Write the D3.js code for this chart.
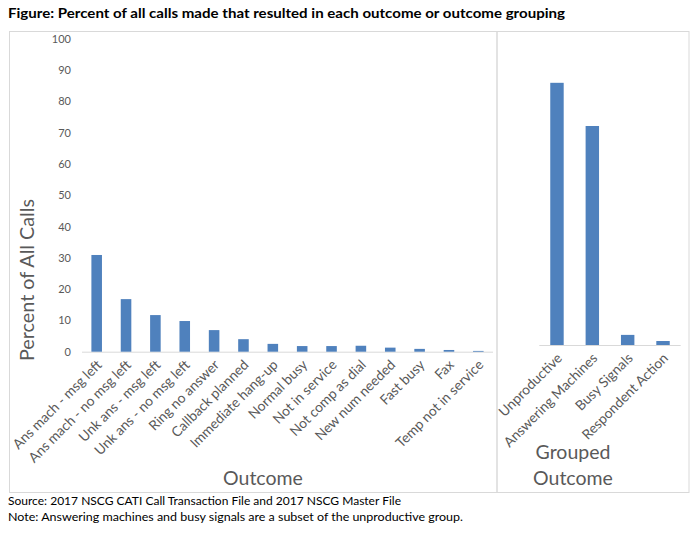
<!DOCTYPE html>
<html>
<head>
<meta charset="utf-8">
<script src="https://cdn.jsdelivr.net/npm/d3@7"></script>
<style>
  body { margin: 0; background: #fff; }
  text { font-family: Lato, "Open Sans", sans-serif; }
</style>
</head>
<body>
<svg id="chart" width="699" height="533"></svg>
<script>
// Individual outcomes (percent of all calls)
var outcomes = ['Ans mach - msg left', 'Ans mach - no msg left', 'Unk ans - msg left',
  'Unk ans - no msg left', 'Ring no answer', 'Callback planned', 'Immediate hang-up',
  'Normal busy', 'Not in service', 'Not comp as dial', 'New num needed', 'Fast busy',
  'Fax', 'Temp not in service'];
var outcomeValues = [30.9, 16.8, 11.7, 9.8, 6.9, 4.0, 2.5, 1.8, 1.8, 1.9, 1.3, 0.9, 0.55, 0.25];

// Grouped outcomes
var groups = ['Unproductive', 'Answering Machines', 'Busy Signals', 'Respondent Action'];
var groupValues = [85.6, 71.5, 3.3, 1.3];

var yTicks = [0, 10, 20, 30, 40, 50, 60, 70, 80, 90, 100];

var svg = d3.select('#chart');
var blue = '#4f81bd', grey = '#595959', rule = '#d9d9d9';

// title
svg.append('text')
  .attr('x', 8).attr('y', 18)
  .attr('style', 'font-size: 13px; font-weight: bold; fill: #000;')
  .attr('textLength', 557).attr('lengthAdjust', 'spacingAndGlyphs')
  .text('Figure: Percent of all calls made that resulted in each outcome or outcome grouping');

// panel frames
svg.append('rect').attr('x', 9.5).attr('y', 31.5).attr('width', 487.5).attr('height', 461)
  .attr('fill', 'none').attr('stroke', rule);
svg.append('rect').attr('x', 497).attr('y', 31.5).attr('width', 192).attr('height', 461)
  .attr('fill', 'none').attr('stroke', rule);

// ---- left panel ----
var x1 = d3.scaleBand().domain(outcomes).range([82, 493]).paddingInner(0.64).paddingOuter(0.32);
var y1 = d3.scaleLinear().domain([0, 100]).range([351.7, 38.7]);

var yAxis = svg.append('g').attr('transform', 'translate(76,0)')
  .call(d3.axisLeft(y1).tickValues(yTicks).tickSize(0).tickPadding(5));
yAxis.select('.domain').remove();
yAxis.selectAll('text').attr('style', 'font-size: 11px; fill: ' + grey + ';');

svg.append('line').attr('x1', 82).attr('x2', 493)
  .attr('y1', y1(0) + 0.5).attr('y2', y1(0) + 0.5).attr('stroke', rule);

svg.append('g').selectAll('rect').data(outcomeValues).join('rect')
  .attr('x', function(d, i) { return x1(outcomes[i]); })
  .attr('width', x1.bandwidth())
  .attr('y', function(d) { return y1(d); })
  .attr('height', function(d) { return y1(0) - y1(d); })
  .attr('fill', blue);

svg.append('g').selectAll('text').data(outcomes).join('text')
  .attr('transform', function(d) {
    return 'translate(' + (x1(d) + x1.bandwidth() / 2 + 6) + ',' + (y1(0) + 14) + ') rotate(-45)';
  })
  .attr('text-anchor', 'end')
  .attr('style', 'font-size: 13.8px; fill: ' + grey + ';')
  .text(function(d) { return d; });

svg.append('text')
  .attr('transform', 'translate(34,280) rotate(-90)')
  .attr('text-anchor', 'middle')
  .attr('style', 'font-size: 19.8px; fill: ' + grey + ';')
  .text('Percent of All Calls');

svg.append('text')
  .attr('x', 263).attr('y', 485)
  .attr('text-anchor', 'middle')
  .attr('style', 'font-size: 19.5px; fill: ' + grey + ';')
  .text('Outcome');

// ---- right panel ----
var x2 = d3.scaleBand().domain(groups).range([539.3, 680.7]).paddingInner(0.62).paddingOuter(0.31);
var y2 = d3.scaleLinear().domain([0, 100]).range([345, 38.7]);

svg.append('line').attr('x1', 539.3).attr('x2', 680.7)
  .attr('y1', y2(0) + 0.5).attr('y2', y2(0) + 0.5).attr('stroke', rule);

svg.append('g').selectAll('rect').data(groupValues).join('rect')
  .attr('x', function(d, i) { return x2(groups[i]); })
  .attr('width', x2.bandwidth())
  .attr('y', function(d) { return y2(d); })
  .attr('height', function(d) { return y2(0) - y2(d); })
  .attr('fill', blue);

svg.append('g').selectAll('text').data(groups).join('text')
  .attr('transform', function(d) {
    return 'translate(' + (x2(d) + x2.bandwidth() / 2 + 6) + ',' + (y2(0) + 14) + ') rotate(-45)';
  })
  .attr('text-anchor', 'end')
  .attr('style', 'font-size: 13.8px; fill: ' + grey + ';')
  .text(function(d) { return d; });

svg.append('text')
  .attr('x', 573).attr('y', 459)
  .attr('text-anchor', 'middle')
  .attr('style', 'font-size: 19.5px; fill: ' + grey + ';')
  .text('Grouped');
svg.append('text')
  .attr('x', 573).attr('y', 485)
  .attr('text-anchor', 'middle')
  .attr('style', 'font-size: 19.5px; fill: ' + grey + ';')
  .text('Outcome');

// footnotes
svg.append('text').attr('x', 8).attr('y', 505)
  .attr('style', 'font-size: 11.5px; fill: #000;')
  .attr('textLength', 393).attr('lengthAdjust', 'spacingAndGlyphs')
  .text('Source: 2017 NSCG CATI Call Transaction File and 2017 NSCG Master File');
svg.append('text').attr('x', 8).attr('y', 521)
  .attr('style', 'font-size: 11.5px; fill: #000;')
  .attr('textLength', 455).attr('lengthAdjust', 'spacingAndGlyphs')
  .text('Note: Answering machines and busy signals are a subset of the unproductive group.');
</script>
</body>
</html>
